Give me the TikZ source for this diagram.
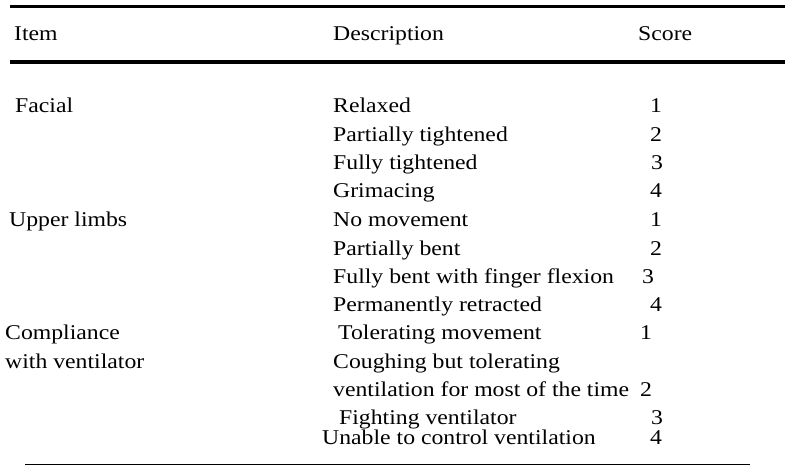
\documentclass[tikz,border=0pt]{standalone}
\usepackage{fontspec}
\setmainfont{Liberation Serif}
\newcommand{\wideT}[1]{\scalebox{1.13}[1]{#1}}
\begin{document}
\begin{tikzpicture}[x=1pt,y=-1pt,
  t/.style={anchor=base west,inner sep=0pt,font=\fontsize{21}{21}\selectfont}]
\useasboundingbox[fill=white] (0,0) rectangle (785,466);
\draw[line width=3pt] (10,6) -- (785,6);
\draw[line width=3.5pt] (10,62) -- (785,62);
\draw[line width=0.8pt] (25,464) -- (750,464);
\node[t] (h1) at (14,40) {\wideT{Item}};
\node[t] (h2) at (333,40) {\wideT{Description}};
\node[t] (h3) at (638,40) {\wideT{Score}};
\node[t] (i1) at (15,112) {\wideT{Facial}};
\node[t] (i2) at (9,226) {\wideT{Upper limbs}};
\node[t] (i3) at (5,339) {\wideT{Compliance}};
\node[t] (i4) at (5,368) {\wideT{with ventilator}};
\foreach \n/\d/\dx/\s/\sx/\y in {
 a/Relaxed/333/1/650/112, b/Partially tightened/333/2/650/141, c/Fully tightened/333/3/651/169,
 d/Grimacing/333/4/650/197, e/No movement/333/1/650/226, f/Partially bent/333/2/650/255,
 g/Fully bent with finger flexion/333/3/642/283, h/Permanently retracted/333/4/650/311,
 i/Tolerating movement/338/1/640/339, k/Fighting ventilator/339/3/651/424, l/Unable to control ventilation/322/4/650/444}{
 \node[t] (d\n) at (\dx,\y) {\wideT{\d}};
 \node[t] (s\n) at (\sx,\y) {\wideT{\s}};
}
\node[t] (dj) at (333,368) {\wideT{Coughing but tolerating}};
\node[t] (dj2) at (333,396) {\wideT{ventilation for most of the time}};
\node[t] (sj) at (640,396) {\wideT{2}};
\end{tikzpicture}
\end{document}
